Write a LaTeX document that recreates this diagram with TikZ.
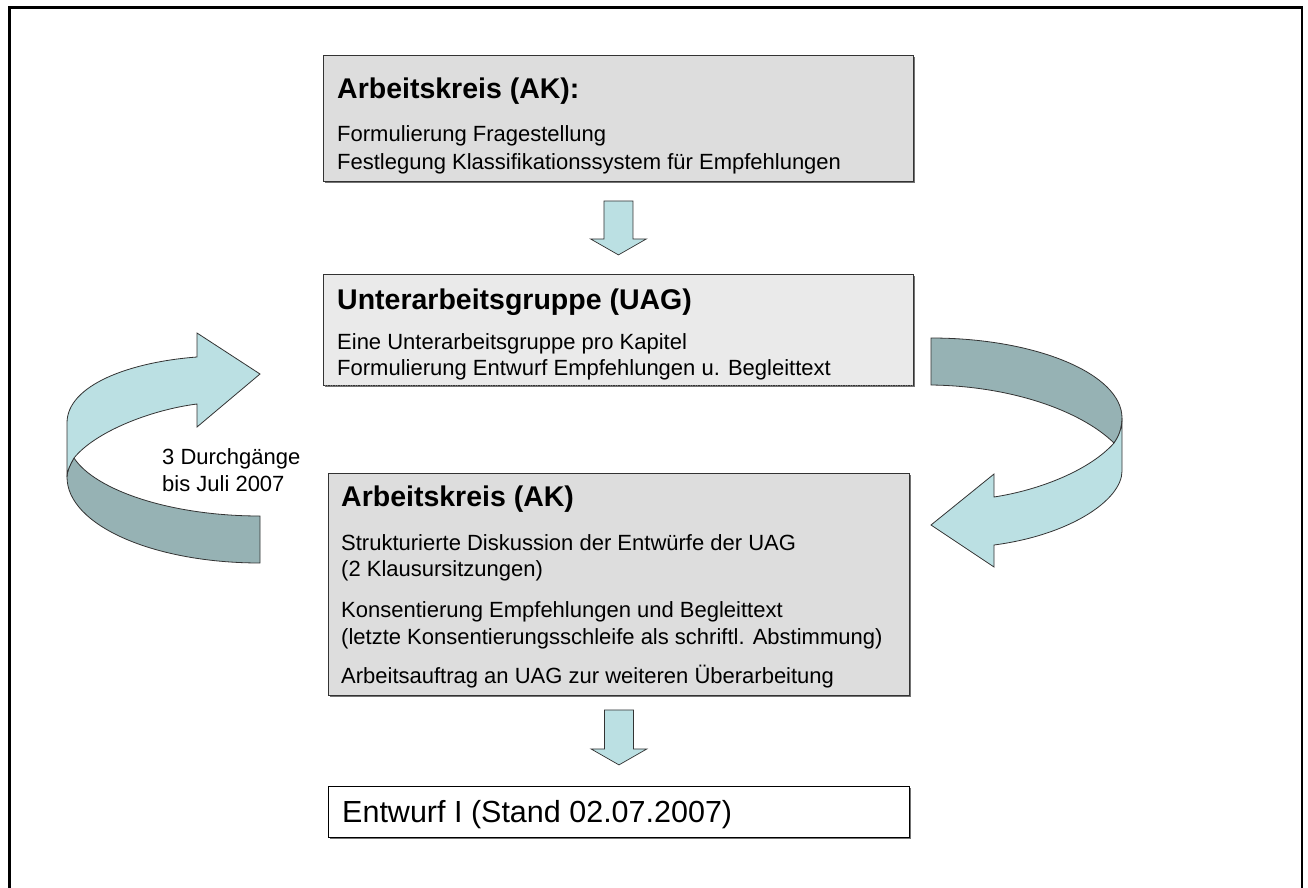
\documentclass[tikz,border=0pt]{standalone}
\usepackage{fontspec}
\setmainfont{Liberation Sans}
\usetikzlibrary{calc,shadows}
\definecolor{akfill}{HTML}{DDDDDD}
\definecolor{uagfill}{HTML}{EAEAEA}
\definecolor{arrowlight}{HTML}{BBE0E3}
\definecolor{arrowdark}{HTML}{96B2B4}
\definecolor{edgegray}{HTML}{333333}
\tikzset{
  boxshape/.style={rectangle, inner sep=0pt, anchor=north west, line width=0.9pt},
  boxshadow/.style={drop shadow={shadow xshift=1.5pt, shadow yshift=-1.5pt, fill=black!55, opacity=1}},
  titletext/.style={inner sep=0pt, anchor=base west, font=\fontsize{28.5}{34}\selectfont\bfseries},
  bodytext/.style={inner sep=0pt, anchor=base west, font=\fontsize{22}{27}\selectfont},
  blockarrow/.style={fill=arrowlight, draw=edgegray, line width=0.7pt, line join=miter},
  ribbonlight/.style={fill=arrowlight, draw=black!80, line width=0.8pt},
  ribbondark/.style={fill=arrowdark, draw=black!80, line width=0.8pt},
}
\begin{document}
\begin{tikzpicture}[x=1pt,y=-1pt]
\useasboundingbox (0,0) rectangle (1308,888);
% frame
\draw[line width=2.5pt] (9.5,888) -- (9.5,7.5) -- (1302,7.5) -- (1302,888);

% boxes
\node[boxshape, boxshadow, draw=edgegray, fill=akfill, minimum width=590pt, minimum height=126pt] (ak1) at (323,55) {};
\node[boxshape, boxshadow, fill=uagfill, minimum width=590pt, minimum height=111pt] (uag) at (323,274) {};
\draw[edgegray, line width=0.9pt] (uag.south west) -- (uag.north west) -- (uag.north east) -- (uag.south east);
\draw[edgegray, line width=0.9pt, dash pattern=on 1.5pt off 1pt] (uag.south west) -- (uag.south east);
\node[boxshape, boxshadow, draw=edgegray, fill=akfill, minimum width=581pt, minimum height=222pt] (ak2) at (328,473) {};
\node[boxshape, boxshadow, draw=black, fill=white, line width=1.2pt, minimum width=581pt, minimum height=51pt] (draft) at (328,786) {};

% texts box 1
\node[titletext] (t1) at (337,99) {Arbeitskreis (AK):};
\node[bodytext] (t1a) at (337,142) {Formulierung Fragestellung};
\node[bodytext] (t1b) at (337,169) {Festlegung Klassifikationssystem für Empfehlungen};
% texts box 2
\node[titletext] (t2) at (337,309) {Unterarbeitsgruppe (UAG)};
\node[bodytext] (t2a) at (337,349) {Eine Unterarbeitsgruppe pro Kapitel};
\node[bodytext] (t2b) at (337,375) {Formulierung Entwurf Empfehlungen u. Begleittext};
% texts box 3
\node[titletext] (t3) at (341,506) {Arbeitskreis (AK)};
\node[bodytext] (t3a) at (341,550) {Strukturierte Diskussion der Entwürfe der UAG};
\node[bodytext] (t3b) at (341,576) {(2 Klausursitzungen)};
\node[bodytext] (t3c) at (341,617) {Konsentierung Empfehlungen und Begleittext};
\node[bodytext] (t3d) at (341,644) {(letzte Konsentierungsschleife als schriftl. Abstimmung)};
\node[bodytext] (t3e) at (341,683) {Arbeitsauftrag an UAG zur weiteren Überarbeitung};
% box 4
\node[inner sep=0pt, anchor=base west, font=\fontsize{30.5}{36}\selectfont] (t4) at (342,822) {Entwurf I (Stand 02.07.2007)};
% loop label
\node[bodytext] (lab1) at (162,464) {3 Durchgänge};
\node[bodytext] (lab2) at (162,491) {bis Juli 2007};

% down arrows
\coordinate (a1) at ($(ak1.south)+(0,19)$);
\draw[blockarrow] (a1) ++(-14.5,0) -- ++(29,0) -- ++(0,38) -- ++(13.5,0) -- ++(-28,16) -- ++(-28,-16) -- ++(13.5,0) -- cycle;
\coordinate (a2) at ($(ak2.south)+(0,14)$);
\draw[blockarrow] (a2) ++(-14.5,0) -- ++(29,0) -- ++(0,39) -- ++(13.5,0) -- ++(-28,16) -- ++(-28,-16) -- ++(13.5,0) -- cycle;

% right ribbon arrow (UAG -> AK)
\draw[ribbondark] (931,338) .. controls (1036,338) and (1122,374) .. (1122,418)
  .. controls (1122,428) and (1119,436) .. (1114,443)
  .. controls (1080,410) and (1010,386) .. (931,385) -- cycle;
\draw[ribbonlight] (1122,418) -- (1122,471)
  .. controls (1122,500) and (1070,535) .. (994,545)
  -- (994,567) -- (931,525) -- (994,474) -- (994,497)
  .. controls (1040,490) and (1090,470) .. (1114,443)
  .. controls (1119,436) and (1122,428) .. cycle;

% left ribbon arrow (AK -> UAG)
\draw[ribbondark] (67,477) .. controls (67,525) and (153,563) .. (260,563) -- (260,516)
  .. controls (170,516) and (95,490) .. (74,458)
  .. controls (70,465) and (67,471) .. cycle;
\draw[ribbonlight] (197,357) -- (197,333) -- (260,374) -- (197,427) -- (197,404)
  .. controls (150,410) and (95,432) .. (74,458)
  .. controls (70,465) and (67,471) .. (67,477)
  -- (67,423) .. controls (67,385) and (130,362) .. cycle;
\end{tikzpicture}
\end{document}
